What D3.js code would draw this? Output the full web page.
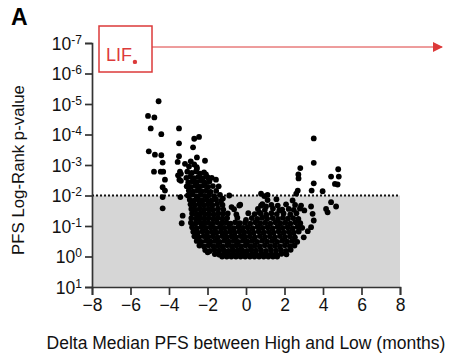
<!DOCTYPE html>
<html>
<head>
<meta charset="utf-8">
<script src="https://cdn.jsdelivr.net/npm/d3@7"></script>
<style>
  body { margin: 0; background: #fff; }
  svg text { font-family: 'Liberation Sans', Arial, sans-serif; }
</style>
</head>
<body>
<div class="visHolder"></div>
<script>
const w = 456, h = 355;

// x = delta median PFS (months), y = log10 of log-rank p-value
const xTicks = [-8, -6, -4, -2, 0, 2, 4, 6, 8];
const yTickExps = [-7, -6, -5, -4, -3, -2, -1, 0, 1];
const threshold = 1e-2;

// genes above threshold, left side
const leftHits = [
  [-4.54,-5.09],[-5.09,-4.61],[-4.76,-4.56],[-4.95,-4.20],[-4.40,-4.01],[-3.48,-4.20],
  [-3.48,-3.71],[-5.05,-3.45],[-4.73,-3.34],[-4.40,-3.32],[-4.33,-3.08],[-4.78,-2.78],
  [-4.43,-2.78],[-4.30,-2.78],[-4.21,-2.52],[-4.33,-2.27],[-4.21,-2.16],[-4.33,-1.95],
  [-4.33,-1.58],[-3.29,-1.34],[-3.34,-1.09],[-3.48,-3.29],[-3.55,-3.10],[-3.43,-2.78],
  [-3.53,-2.66],[-3.46,-2.52],[-3.41,-1.95],[-3.38,-2.48],[-2.69,-3.86],[-2.44,-3.92],
  [-2.75,-3.58],[-2.55,-3.25],[-2.13,-3.14],[-1.56,-2.52],[-3.17,-3.04],[-3.38,-2.71],
  [-2.69,-3.02],[-2.56,-2.93],[-2.96,-2.95],[-2.08,-2.69],[-2.55,-2.88],[-2.87,-3.12],
  [-0.87,-2.00],[-2.60,-0.69],[-1.99,-0.14],[-1.42,-2.30],[-1.20,-1.90],[-0.75,-1.62]
];

// genes above threshold, right side
const rightHits = [
  [3.52,-3.87],[3.52,-3.07],[2.82,-2.90],[2.72,-2.69],[2.73,-2.56],[3.52,-2.40],
  [4.42,-2.62],[4.79,-2.86],[4.82,-2.62],[4.62,-2.38],[4.76,-2.36],[3.98,-2.14],
  [3.41,-2.16],[2.69,-2.16],[2.61,-2.06],[0.78,-2.06],[4.42,-1.78],[4.68,-1.64],
  [4.16,-1.56],[4.24,-1.45],[3.38,-1.64],[3.46,-1.40],[3.03,-1.51],[3.52,-1.18],
  [3.38,-0.96],[3.21,-0.83],[3.00,-0.63],[2.86,-1.67],[1.65,-1.67],[1.73,-1.51],
  [0.78,-1.67],[1.04,-1.64],[-0.35,-1.67],[0.00,-1.20],[-0.30,-1.70],[0.69,-1.45],
  [0.95,-1.98],[1.12,-2.02]
];

// the main cloud of non-significant genes
const bulk = [
  [-3.05,-2.78],[-2.82,-2.74],[-2.60,-2.79],[-2.38,-2.72],[-2.18,-2.76],
  [-3.10,-2.58],[-2.90,-2.62],[-2.70,-2.57],[-2.48,-2.61],[-2.26,-2.56],[-2.00,-2.60],[-1.78,-2.58],
  [-3.00,-2.43],[-2.78,-2.47],[-2.56,-2.44],[-2.35,-2.48],[-2.12,-2.42],[-1.90,-2.46],
  [-3.08,-2.30],[-2.86,-2.28],[-2.64,-2.32],[-2.42,-2.29],[-2.20,-2.33],[-1.97,-2.28],[-1.72,-2.31],
  [-2.97,-2.16],[-2.74,-2.13],[-2.52,-2.17],[-2.30,-2.14],[-2.07,-2.16],[-1.84,-2.12],[-1.55,-2.15],
  [-3.02,-2.00],[-2.80,-2.03],[-2.58,-1.98],[-2.36,-2.02],[-2.14,-1.99],[-1.92,-2.01],[-1.66,-1.98],[-1.35,-2.02],
  [-2.92,-1.86],[-2.70,-1.83],[-2.48,-1.87],[-2.26,-1.84],[-2.03,-1.86],[-1.80,-1.83],[-1.56,-1.87],[-1.30,-1.82],
  [1.12,-1.85],[1.58,-1.88],[2.42,-1.84],
  [-2.88,-1.71],[-2.66,-1.68],[-2.43,-1.72],[-2.20,-1.69],[-1.98,-1.71],[-1.75,-1.68],[-1.50,-1.72],[-1.22,-1.69],
  [0.85,-1.72],[1.32,-1.69],[2.08,-1.71],[2.55,-1.69],
  [-2.84,-1.56],[-2.62,-1.53],[-2.40,-1.57],[-2.17,-1.54],[-1.94,-1.56],[-1.70,-1.53],[-1.45,-1.57],[-1.18,-1.54],
  [-0.62,-1.55],[0.62,-1.56],[0.98,-1.53],[1.40,-1.57],[1.88,-1.54],[2.22,-1.56],[2.48,-1.53],[2.80,-1.57],
  [-2.80,-1.41],[-2.58,-1.38],[-2.36,-1.42],[-2.14,-1.39],[-1.92,-1.41],[-1.68,-1.38],[-1.44,-1.42],[-1.20,-1.39],
  [-0.95,-1.41],[-0.50,-1.38],[0.12,-1.42],[0.45,-1.39],[0.76,-1.41],[1.05,-1.37],[1.32,-1.42],[1.60,-1.39],
  [1.95,-1.41],[2.30,-1.38],[2.62,-1.42],
  [-2.84,-1.26],[-2.60,-1.23],[-2.38,-1.27],[-2.16,-1.24],[-1.94,-1.26],[-1.70,-1.23],[-1.46,-1.27],[-1.22,-1.24],
  [-0.98,-1.26],[-0.45,-1.27],[0.30,-1.26],[0.58,-1.23],[0.84,-1.27],[1.10,-1.24],[1.38,-1.26],[1.66,-1.23],
  [1.92,-1.27],[2.18,-1.24],[2.45,-1.26],[2.72,-1.23],
  [-2.86,-1.11],[-2.63,-1.08],[-2.40,-1.12],[-2.18,-1.09],[-1.96,-1.11],[-1.73,-1.08],[-1.50,-1.12],[-1.26,-1.09],
  [-1.02,-1.11],[-0.80,-1.08],[-0.56,-1.12],[-0.32,-1.09],[-0.05,-1.11],[0.22,-1.08],[0.48,-1.12],[0.74,-1.09],
  [1.00,-1.11],[1.26,-1.08],[1.52,-1.12],[1.78,-1.09],[2.04,-1.11],[2.30,-1.08],[2.56,-1.12],[2.82,-1.09],
  [-2.80,-0.96],[-2.56,-0.93],[-2.32,-0.97],[-2.08,-0.94],[-1.84,-0.96],[-1.60,-0.93],[-1.36,-0.97],[-1.12,-0.94],
  [-0.88,-0.96],[-0.64,-0.93],[-0.40,-0.97],[-0.16,-0.94],[0.08,-0.96],[0.34,-0.93],[0.60,-0.97],[0.86,-0.94],
  [1.12,-0.96],[1.38,-0.93],[1.64,-0.97],[1.90,-0.94],[2.16,-0.96],[2.42,-0.93],[2.68,-0.97],[2.92,-0.94],
  [-2.74,-0.81],[-2.50,-0.78],[-2.26,-0.82],[-2.02,-0.79],[-1.78,-0.81],[-1.54,-0.78],[-1.30,-0.82],[-1.06,-0.79],
  [-0.82,-0.81],[-0.58,-0.78],[-0.34,-0.82],[-0.10,-0.79],[0.14,-0.81],[0.40,-0.78],[0.66,-0.82],[0.92,-0.79],
  [1.18,-0.81],[1.44,-0.78],[1.70,-0.82],[1.96,-0.79],[2.22,-0.81],[2.48,-0.78],[2.74,-0.82],
  [-2.68,-0.66],[-2.44,-0.63],[-2.20,-0.67],[-1.96,-0.64],[-1.72,-0.66],[-1.48,-0.63],[-1.24,-0.67],[-1.00,-0.64],
  [-0.76,-0.66],[-0.52,-0.63],[-0.28,-0.67],[-0.04,-0.64],[0.20,-0.66],[0.46,-0.63],[0.72,-0.67],[0.98,-0.64],
  [1.24,-0.66],[1.50,-0.63],[1.76,-0.67],[2.02,-0.64],[2.28,-0.66],[2.54,-0.63],
  [-2.56,-0.51],[-2.32,-0.48],[-2.08,-0.52],[-1.84,-0.49],[-1.60,-0.51],[-1.36,-0.48],[-1.12,-0.52],[-0.88,-0.49],
  [-0.64,-0.51],[-0.40,-0.48],[-0.16,-0.52],[0.08,-0.49],[0.32,-0.51],[0.58,-0.48],[0.84,-0.52],[1.10,-0.49],
  [1.36,-0.51],[1.62,-0.48],[1.88,-0.52],[2.14,-0.49],[2.40,-0.51],[2.66,-0.48],
  [-2.42,-0.36],[-2.18,-0.33],[-1.94,-0.37],[-1.70,-0.34],[-1.46,-0.36],[-1.22,-0.33],[-0.98,-0.37],[-0.74,-0.34],
  [-0.50,-0.36],[-0.26,-0.33],[-0.02,-0.37],[0.22,-0.34],[0.46,-0.36],[0.72,-0.33],[0.98,-0.37],[1.24,-0.34],
  [1.50,-0.36],[1.76,-0.33],[2.02,-0.37],[2.28,-0.34],[2.52,-0.36],
  [-2.12,-0.21],[-1.88,-0.18],[-1.64,-0.22],[-1.40,-0.19],[-1.16,-0.21],[-0.92,-0.18],[-0.68,-0.22],[-0.44,-0.19],
  [-0.20,-0.21],[0.04,-0.18],[0.28,-0.22],[0.52,-0.19],[0.78,-0.21],[1.04,-0.18],[1.30,-0.22],[1.56,-0.19],
  [1.82,-0.21],[2.08,-0.18],[2.32,-0.22],
  [-1.62,-0.08],[-1.38,-0.06],[-1.14,-0.09],[-0.90,-0.07],[-0.66,-0.08],[-0.42,-0.06],[-0.18,-0.09],[0.06,-0.07],
  [0.30,-0.08],[0.54,-0.06],[0.80,-0.09],[1.06,-0.07],[1.32,-0.08],[1.58,-0.06],[1.84,-0.09],[2.10,-0.07],
  [-1.24,0],[-1.00,0],[-0.76,0],[-0.52,0],[-0.28,0],[-0.04,0],[0.20,0],[0.44,0],[0.68,0],[0.92,0],
  [1.16,0],[1.40,0],[1.62,0]
];

// highlighted gene
const lif = { name: 'LIF', delta: -5.77, logP: -6.38 };

const red = '#dc3a3a';
const axisColor = '#333';

const svg = d3.select('.visHolder')
  .append('svg')
  .attr('width', w)
  .attr('height', h);

const xScale = d3.scaleLinear().domain([-8, 8]).range([92, 400]);
const yScale = d3.scaleLog().domain([1e1, 1e-7]).range([287, 43]);

// grey band for non-significant p-values
svg.append('rect')
  .attr('x', xScale(-8))
  .attr('y', yScale(threshold))
  .attr('width', xScale(8) - xScale(-8))
  .attr('height', yScale(1e1) - yScale(threshold))
  .attr('fill', '#d6d6d6');

svg.append('line')
  .attr('x1', xScale(-8)).attr('x2', xScale(8))
  .attr('y1', yScale(threshold)).attr('y2', yScale(threshold))
  .attr('stroke', '#111')
  .attr('stroke-width', 2)
  .attr('stroke-dasharray', '2,2');

const allPoints = [...bulk, ...leftHits, ...rightHits];

svg.append('g')
  .selectAll('circle')
  .data(allPoints)
  .enter()
  .append('circle')
  .attr('cx', d => xScale(d[0]))
  .attr('cy', d => yScale(10 ** d[1]))
  .attr('r', 2.9)
  .attr('fill', '#000');

// axes
const xAxis = d3.axisBottom(xScale).tickValues(xTicks).tickSize(8).tickPadding(4);
const yAxis = d3.axisLeft(yScale)
  .tickValues(yTickExps.map(e => 10 ** e))
  .tickSize(7)
  .tickPadding(3)
  .tickFormat(() => '');

const gx = svg.append('g')
  .attr('transform', `translate(0, ${yScale(1e1)})`)
  .call(xAxis);

const gy = svg.append('g')
  .attr('transform', `translate(${xScale(-8)}, 0)`)
  .call(yAxis);

[gx, gy].forEach(g => {
  g.select('.domain').attr('stroke', axisColor).attr('stroke-width', 1.7);
  g.selectAll('.tick line').attr('stroke', axisColor).attr('stroke-width', 1.7);
  g.selectAll('.tick text').attr('fill', '#111').attr('font-size', 17.5).attr('font-family', null);
});

// 10^n labels with superscripts
gy.selectAll('.tick text')
  .attr('dy', '0.36em')
  .each(function(d) {
    const t = d3.select(this);
    t.append('tspan').text('10');
    t.append('tspan')
      .attr('dy', '-0.5em')
      .attr('font-size', 12)
      .text(Math.round(Math.log10(d)));
  });

// axis titles
svg.append('text')
  .attr('x', 246)
  .attr('y', 349)
  .attr('text-anchor', 'middle')
  .attr('font-size', 17.5)
  .attr('fill', '#111')
  .text('Delta Median PFS between High and Low (months)');

svg.append('text')
  .attr('transform', 'translate(24, 170) rotate(-90)')
  .attr('text-anchor', 'middle')
  .attr('font-size', 16.8)
  .attr('fill', '#111')
  .text('PFS Log-Rank p-value');

// panel letter
svg.append('text')
  .attr('x', 11)
  .attr('y', 25)
  .attr('font-size', 23)
  .attr('font-weight', 'bold')
  .attr('fill', '#000')
  .text('A');

// LIF callout
svg.append('rect')
  .attr('x', 99).attr('y', 26)
  .attr('width', 53).attr('height', 46)
  .attr('fill', '#fff')
  .attr('stroke', red)
  .attr('stroke-width', 1.5);

svg.append('text')
  .attr('x', 106)
  .attr('y', 61)
  .attr('font-size', 18)
  .attr('fill', red)
  .text(lif.name);

svg.append('circle')
  .attr('cx', xScale(lif.delta))
  .attr('cy', yScale(10 ** lif.logP))
  .attr('r', 2.2)
  .attr('fill', red);

svg.append('defs').append('marker')
  .attr('id', 'arrow')
  .attr('viewBox', '0 0 10 10')
  .attr('refX', 9).attr('refY', 5)
  .attr('markerWidth', 10).attr('markerHeight', 10)
  .attr('markerUnits', 'userSpaceOnUse')
  .attr('orient', 'auto')
  .append('path')
  .attr('d', 'M0,0 L10,5 L0,10 Z')
  .attr('fill', red);

svg.append('line')
  .attr('x1', 152).attr('y1', 47)
  .attr('x2', 442).attr('y2', 47)
  .attr('stroke', red)
  .attr('stroke-width', 1)
  .attr('marker-end', 'url(#arrow)');
</script>
</body>
</html>
